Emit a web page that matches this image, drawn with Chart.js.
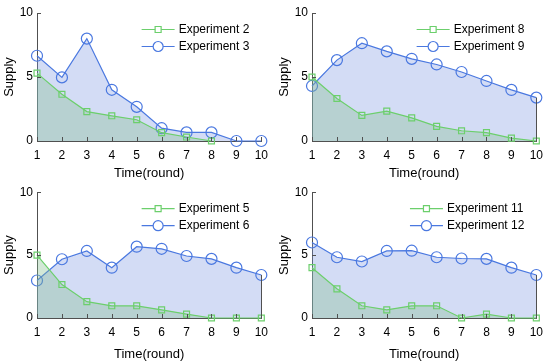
<!DOCTYPE html>
<html>
<head>
<meta charset="utf-8">
<script src="https://cdn.jsdelivr.net/npm/chart.js@4.4.0/dist/chart.umd.min.js"></script>
<style>
    html, body { margin: 0; padding: 0; background: #fff; }
    #wrap { position: relative; width: 550px; height: 362px; }
    .panel { position: absolute; width: 275px; height: 181px; }
</style>
</head>
<body>
<div id="wrap">
    <div class="panel" style="left:0;top:0"><canvas id="c1" width="275" height="181"></canvas></div>
    <div class="panel" style="left:275px;top:0"><canvas id="c2" width="275" height="181"></canvas></div>
    <div class="panel" style="left:0;top:181px"><canvas id="c3" width="275" height="181"></canvas></div>
    <div class="panel" style="left:275px;top:181px"><canvas id="c4" width="275" height="181"></canvas></div>
</div>
<script>
// rounds on the x axis
const rounds = ['1', '2', '3', '4', '5', '6', '7', '8', '9', '10'];
const yTicks = [0, 5, 10];

// supply per round
const exp2 = [5.3, 3.65, 2.3, 1.97, 1.66, 0.65, 0.31, 0, null, null];
const exp3 = [6.66, 4.97, 8.0, 4.0, 2.67, 1.0, 0.67, 0.67, 0, 0];
const exp8 = [5.0, 3.32, 2.0, 2.33, 1.81, 1.14, 0.8, 0.65, 0.23, 0];
const exp9 = [4.3, 6.32, 7.64, 7.0, 6.42, 5.98, 5.39, 4.69, 3.99, 3.39];
const exp5 = [5.0, 2.66, 1.3, 0.97, 0.97, 0.65, 0.31, 0, 0, 0];
const exp6 = [2.98, 4.67, 5.33, 4.0, 5.67, 5.5, 4.93, 4.7, 4.0, 3.42];
const exp11 = [4.0, 2.32, 0.97, 0.65, 0.97, 0.97, 0, 0.31, 0, 0];
const exp12 = [6.0, 4.83, 4.49, 5.33, 5.35, 4.83, 4.73, 4.7, 4.0, 3.42];

const GREEN = '#6ccf6c';
const BLUE = '#4a78e0';
const AXIS = '#505050';
const FONT = "'Liberation Sans', Arial, sans-serif";

// inward tick marks, closing line at x=10 and the line+marker legend
const decorPlugin = {
    id: 'decor',
    afterDraw(chart) {
        const ctx = chart.ctx;
        const area = chart.chartArea;
        const xs = chart.scales.x;
        const ys = chart.scales.y;
        ctx.save();
        ctx.strokeStyle = AXIS;
        ctx.lineWidth = 1;
        ctx.beginPath();
        xs.ticks.forEach((t, i) => {
            const px = Math.round(xs.getPixelForTick(i)) + 0.5;
            ctx.moveTo(px, area.bottom);
            ctx.lineTo(px, area.bottom - 4);
        });
        yTicks.forEach(v => {
            const py = Math.round(ys.getPixelForValue(v)) + 0.5;
            ctx.moveTo(area.left, py);
            ctx.lineTo(area.left + 4, py);
        });
        // vertical edge of the blue area at the last round
        const blue = chart.data.datasets[1].data;
        const last = blue[blue.length - 1];
        const lx = Math.round(xs.getPixelForValue(blue.length - 1)) + 0.5;
        ctx.moveTo(lx, ys.getPixelForValue(last));
        ctx.lineTo(lx, ys.getPixelForValue(0));
        ctx.stroke();

        // legend
        ctx.font = '12px ' + FONT;
        ctx.textBaseline = 'middle';
        const labels = chart.data.datasets.map(d => d.label);
        const maxW = Math.max(...labels.map(l => ctx.measureText(l).width));
        const textX = area.right - 12 - maxW;
        chart.data.datasets.forEach((d, i) => {
            const y = area.top + 16.5 + 17 * i;
            const x1 = textX - 37, x2 = textX - 4;
            const mx = (x1 + x2) / 2;
            ctx.strokeStyle = d.borderColor;
            ctx.lineWidth = 1.2;
            ctx.beginPath();
            ctx.moveTo(x1, y);
            ctx.lineTo(x2, y);
            ctx.stroke();
            ctx.fillStyle = '#fff';
            ctx.beginPath();
            if (i === 0) {
                ctx.rect(mx - 3, y - 3, 6, 6);
            } else {
                ctx.arc(mx, y, 5, 0, Math.PI * 2);
            }
            ctx.fill();
            ctx.stroke();
            ctx.fillStyle = '#000';
            ctx.fillText(d.label, textX, y);
        });
        ctx.restore();
    }
};

function makeChart(id, greenLabel, greenData, blueLabel, blueData, topPad, bottomPx) {
    new Chart(document.getElementById(id), {
        type: 'line',
        data: {
            labels: rounds,
            datasets: [{
                label: greenLabel,
                data: greenData,
                borderColor: GREEN,
                borderWidth: 1.2,
                backgroundColor: 'rgba(130,190,140,0.35)',
                fill: 'origin',
                pointStyle: 'rect',
                pointRadius: 4.2,
                pointBorderWidth: 1.2,
                pointBorderColor: GREEN,
                pointBackgroundColor: 'rgba(0,0,0,0)',
                tension: 0,
                clip: false
            }, {
                label: blueLabel,
                data: blueData,
                borderColor: BLUE,
                borderWidth: 1.2,
                backgroundColor: 'rgba(120,150,225,0.33)',
                fill: 'origin',
                pointStyle: 'circle',
                pointRadius: 5.5,
                pointBorderWidth: 1.2,
                pointBorderColor: BLUE,
                pointBackgroundColor: 'rgba(0,0,0,0)',
                tension: 0,
                clip: false
            }]
        },
        options: {
            responsive: false,
            animation: false,
            layout: { padding: { top: topPad, right: 12, left: 0, bottom: 0 } },
            plugins: { legend: { display: false }, tooltip: { enabled: false } },
            scales: {
                x: {
                    offset: false,
                    grid: { display: false, drawTicks: false },
                    border: { display: true, color: AXIS, width: 1 },
                    ticks: { color: '#000', font: { family: FONT, size: 12 }, padding: 7, maxRotation: 0, autoSkip: false },
                    title: { display: true, text: 'Time(round)', color: '#000', font: { family: FONT, size: 13 }, padding: { top: 0, bottom: 0 } },
                    afterFit: s => { s.height = 181 - bottomPx; }
                },
                y: {
                    min: 0,
                    max: 10,
                    grid: { display: false, drawTicks: false },
                    border: { display: true, color: AXIS, width: 1 },
                    ticks: { stepSize: 5, color: '#000', font: { family: FONT, size: 12 }, padding: 4 },
                    afterBuildTicks: s => { s.ticks = yTicks.map(v => ({ value: v })); },
                    title: { display: true, text: 'Supply', color: '#000', font: { family: FONT, size: 13 }, padding: { top: 2, bottom: 0 } },
                    afterFit: s => { s.width = 37; }
                }
            }
        },
        plugins: [decorPlugin]
    });
}

makeChart('c1', 'Experiment 2', exp2, 'Experiment 3', exp3, 13, 141);
makeChart('c2', 'Experiment 8', exp8, 'Experiment 9', exp9, 13, 141);
makeChart('c3', 'Experiment 5', exp5, 'Experiment 6', exp6, 9, 137);
makeChart('c4', 'Experiment 11', exp11, 'Experiment 12', exp12, 9, 137);
</script>
</body>
</html>
